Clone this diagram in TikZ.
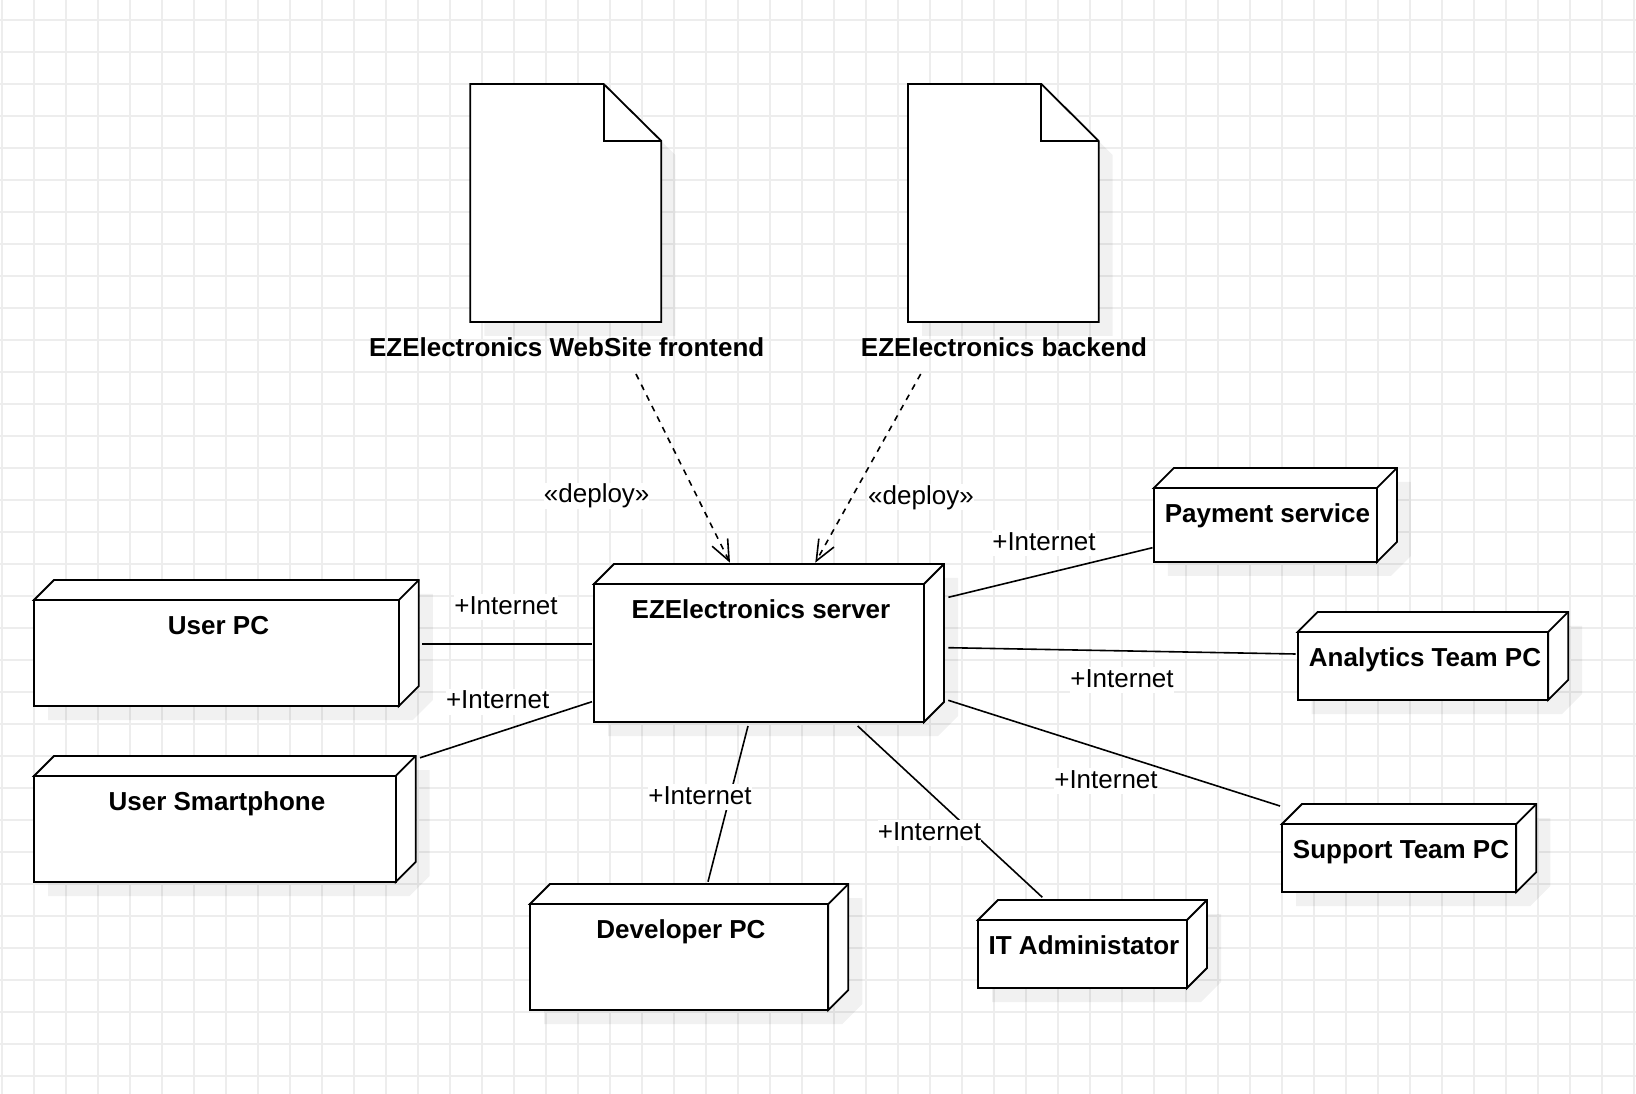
\documentclass[tikz,border=0pt]{standalone}
\usepackage{fontspec}
\setmainfont{Liberation Sans}
\usetikzlibrary{arrows.meta}
\tikzset{
  gridline/.style={draw=black!7, line width=1pt},
  outline/.style={draw=black, line width=1.35pt, fill=white, line join=miter},
  dropshadow/.style={fill=black, fill opacity=0.055},
  titletext/.style={anchor=base, inner sep=0pt, font=\fontsize{19.5}{23}\selectfont\bfseries},
  wiretext/.style={anchor=base, inner xsep=0pt, inner ysep=0pt, fill=white, text height=15pt, text depth=4.5pt, font=\fontsize{19.5}{23}\selectfont},
  wire/.style={draw=black, line width=1.2pt},
  deployarrow/.style={draw=black, line width=1.2pt, dash pattern=on 4.5pt off 4.4pt, -{Straight Barb[length=15.5pt,width=13pt,line width=1.2pt]}}
}
% name, x1, y1, x2, y2, label centre x, label baseline y, text
\newcommand\depnode[8]{%
  \fill[dropshadow, shift={(14,14)}] (#2,#5) -- (#2,#3) -- ({#2+20},{#3-20}) -- ({#4+20},{#3-20}) -- ({#4+20},{#5-20}) -- (#4,#5) -- cycle;
  \path[outline] (#2,#3) -- ({#2+20},{#3-20}) -- ({#4+20},{#3-20}) -- ({#4+20},{#5-20}) -- (#4,#5) -- (#4,#3) -- cycle;
  \path[outline] (#2,#3) rectangle (#4,#5);
  \draw[outline, fill=none] (#4,#3) -- ({#4+20},{#3-20});
  \node[titletext] (#1) at (#6,#7) {#8};
}
% name, x1, y1, foldx, foldy, x2, y2, label centre x, text
\newcommand\artifact[9]{%
  \fill[dropshadow, shift={(14,14)}] (#2,#3) -- (#4,#3) -- (#6,#5) -- (#6,#7) -- (#2,#7) -- cycle;
  \path[outline] (#2,#3) -- (#4,#3) -- (#6,#5) -- (#6,#7) -- (#2,#7) -- cycle;
  \draw[outline, fill=none] (#4,#3) -- (#4,#5) -- (#6,#5);
  \node[titletext] (#1) at (#8,357) {#9};
}
\begin{document}
\begin{tikzpicture}[x=0.75pt,y=-0.75pt]
\useasboundingbox (0,0) rectangle (1636,1094);
\fill[white] (0,0) rectangle (1636,1094);
\foreach \gx in {2,34,...,1634} {\draw[gridline] (\gx,0) -- (\gx,1094);}
\foreach \gy in {20,52,...,1076} {\draw[gridline] (0,\gy) -- (1636,\gy);}

\artifact{frontend}{470.3}{84}{603.7}{141}{661.3}{322}{566.7}{EZElectronics WebSite frontend}
\artifact{backend}{908}{84}{1041.3}{141}{1098.7}{322}{1004}{EZElectronics backend}

\depnode{server}{594}{584}{924}{722}{761}{618.3}{EZElectronics server}
\depnode{userpc}{34}{600}{398.8}{706}{218.5}{634.7}{User PC}
\depnode{smartphone}{34}{776}{395.7}{882}{217}{810}{User Smartphone}
\depnode{developer}{530}{904}{828.3}{1010}{681}{938.7}{Developer PC}
\depnode{itadmin}{978}{920}{1187}{988}{1084}{954.3}{IT Administator}
\depnode{support}{1282}{824}{1516.3}{892}{1401}{858}{Support Team PC}
\depnode{payment}{1153.8}{488}{1376.9}{562}{1267.5}{522.7}{Payment service}
\depnode{analytics}{1297.7}{632}{1548.2}{700}{1425}{667}{Analytics Team PC}

\coordinate (frontendOut) at (636,374);
\coordinate (backendOut) at (920.7,374);
\coordinate (serverInA) at (730,562.7);
\coordinate (serverInB) at (815.3,562.7);
\draw[deployarrow] (frontendOut) -- (serverInA);
\draw[deployarrow] (backendOut) -- (serverInB);

\coordinate (srvW1) at (592,644);      \coordinate (pcE) at (422,644);
\coordinate (srvW2) at (592,701.7);    \coordinate (phoneE) at (420,757.8);
\coordinate (srvE1) at (948.4,597.3);  \coordinate (payW) at (1152.5,547.7);
\coordinate (srvE2) at (948.4,647.7);  \coordinate (anaW) at (1295.6,654);
\coordinate (srvE3) at (948.3,700.3);  \coordinate (supW) at (1280,806);
\coordinate (srvS1) at (857.7,726);    \coordinate (itN) at (1042.3,897.3);
\coordinate (srvS2) at (748,726);      \coordinate (devN) at (708,881.7);
\draw[wire] (srvW1) -- (pcE);
\draw[wire] (srvW2) -- (phoneE);
\draw[wire] (srvE1) -- (payW);
\draw[wire] (srvE2) -- (anaW);
\draw[wire] (srvE3) -- (supW);
\draw[wire] (srvS1) -- (itN);
\draw[wire] (srvS2) -- (devN);

\node[wiretext] (deployA) at (596.7,503) {«deploy»};
\node[wiretext] (deployB) at (921,504.3) {«deploy»};
\node[wiretext] (netPC) at (506,614.3) {+Internet};
\node[wiretext] (netPhone) at (497.7,708.7) {+Internet};
\node[wiretext] (netPay) at (1044,550.3) {+Internet};
\node[wiretext] (netAna) at (1122,687) {+Internet};
\node[wiretext] (netSup) at (1106,788.3) {+Internet};
\node[wiretext] (netIT) at (929.5,840.3) {+Internet};
\node[wiretext] (netDev) at (700,804.3) {+Internet};
\end{tikzpicture}
\end{document}
